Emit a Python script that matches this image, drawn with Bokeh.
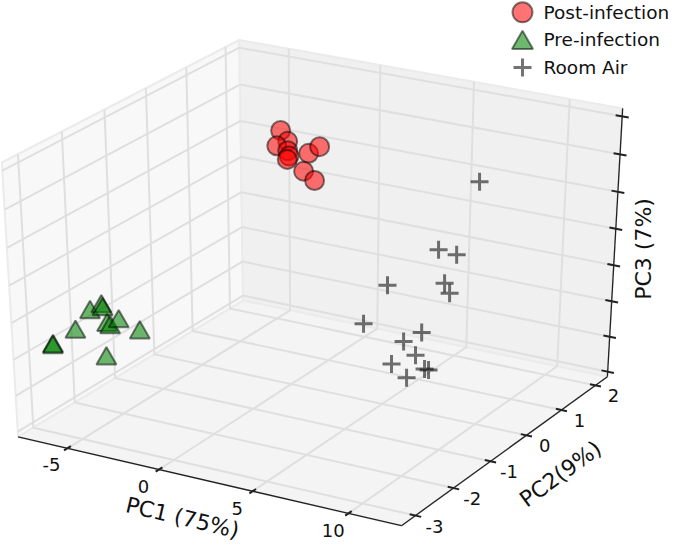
import numpy as np
from bokeh.plotting import figure
from bokeh.models import Range1d
from bokeh.core.properties import value
from bokeh.embed import file_html
from bokeh.resources import INLINE

# ---------------- data (principal-component scores) ----------------
post_pc1 = [-4.66, -4.27, -4.88, -4.27, -4.20, -4.30, -3.11, -2.50, -3.39, -2.78]
post_pc2 = [1.97, 1.97, 1.97, 1.97, 1.97, 1.97, 1.97, 1.97, 1.97, 1.97]
post_pc3 = [1.12, 0.99, 0.90, 0.86, 0.79, 0.74, 0.88, 1.00, 0.62, 0.52]

pre_pc1 = [-6.85, -6.86, -5.57, -4.72, -4.09, -4.03, -3.82, -3.66, -3.18, -2.06, -3.93]
pre_pc2 = [-2.81, -2.81, -2.81, -2.81, -2.81, -2.81, -2.81, -2.81, -2.81, -2.81, -2.81]
pre_pc3 = [-0.455, -0.47, -0.189, 0.122, 0.235, 0.198, -0.004, -0.023, 0.082, -0.007, -0.463]

air_pc1 = [10.78, 8.80, 9.73, 6.19, 9.15, 9.42, 4.95, 8.02, 7.08, 7.72, 6.46, 7.27, 8.21, 8.42]
air_pc2 = [-0.50, -0.50, -0.50, -0.50, -0.50, -0.50, -0.50, -0.50, -0.50, -0.50, -0.50, -0.50, -0.50, -0.50]
air_pc3 = [1.895, 0.915, 0.897, 0.308, 0.488, 0.371, -0.281, -0.237, -0.409, -0.563, -0.756, -0.902, -0.727, -0.729]

series_names = ["Post-infection", "Pre-infection", "Room Air"]

# axis limits and ticks
PC1_LIM = (-7.33, 12.31)
PC2_LIM = (-3.246, 2.242)
PC3_LIM = (-1.5, 2.03)
PC1_TICKS = [-5, 0, 5, 10]
PC2_TICKS = [-3, -2, -1, 0, 1, 2]
PC3_TICKS = [-1.5, -1.0, -0.5, 0.0, 0.5, 1.0, 1.5, 2.0]
PC1_LABELS = ["-5", "0", "5", "10"]
PC2_LABELS = ["-3", "-2", "-1", "0", "1", "2"]
AXIS_TITLES = ["PC1 (75%)", "PC2(9%)", "PC3 (7%)"]

# ---------------- 3-D view (perspective, elev 30, azim -60) ----------------
W_REF, H_REF = 693, 554
ELEV, AZIM, DIST = 30.0, -60.0, 10.0
CX, CY, SX, SY = 317.0, 277.7, 4248.0, 3050.0
PAD = 1.0 / 48
LO, HI = -0.5 - PAD, 0.5 + PAD

el, az = np.radians(ELEV), np.radians(AZIM)
N = np.array([np.cos(az) * np.cos(el), np.sin(az) * np.cos(el), np.sin(el)])
U = np.array([-np.sin(az), np.cos(az), 0.0])
V = np.array([-np.sin(el) * np.cos(az), -np.sin(el) * np.sin(az), np.cos(el)])


def norm(vals, lim):
    return (np.asarray(vals, float) - lim[0]) / (lim[1] - lim[0]) - 0.5


def proj_n(tx, ty, tz):
    tx, ty, tz = np.broadcast_arrays(np.asarray(tx, float), np.asarray(ty, float), np.asarray(tz, float))
    w = DIST - (N[0] * tx + N[1] * ty + N[2] * tz)
    px = (U[0] * tx + U[1] * ty) / w
    py = (V[0] * tx + V[1] * ty + V[2] * tz) / w
    return CX + SX * px, H_REF - (CY - SY * py)


def proj(x, y, z):
    return proj_n(norm(x, PC1_LIM), norm(y, PC2_LIM), norm(z, PC3_LIM))


def poly(pts):
    arr = np.array(pts, float)
    xs, ys = proj_n(arr[:, 0], arr[:, 1], arr[:, 2])
    return list(xs), list(ys)


p = figure(width=685, height=546, x_range=Range1d(0, 685), y_range=Range1d(0, H_REF),
           x_axis_type=None, y_axis_type=None, output_backend="svg",
           toolbar_location=None, min_border=0)
p.outline_line_color = None
p.background_fill_color = "white"
p.border_fill_color = "white"

FONT = value("DejaVu Sans")

# panes
panes = [
    [(LO, LO, LO), (LO, HI, LO), (LO, HI, HI), (LO, LO, HI)],   # PC1 = min
    [(LO, HI, LO), (HI, HI, LO), (HI, HI, HI), (LO, HI, HI)],   # PC2 = max
    [(LO, LO, LO), (HI, LO, LO), (HI, HI, LO), (LO, HI, LO)],   # PC3 = min
]
pane_colors = ["#f8f8f8", "#f0f0f0", "#f4f4f4"]
pxs, pys = [], []
for pn in panes:
    a, b = poly(pn)
    pxs.append(a)
    pys.append(b)
p.patches(pxs, pys, fill_color=pane_colors, line_color="#ebebeb", line_width=2)

# grid lines
gx, gy = [], []
for t in norm(PC1_TICKS, PC1_LIM):
    a, b = poly([(t, LO, LO), (t, HI, LO), (t, HI, HI)])
    gx.append(a); gy.append(b)
for t in norm(PC2_TICKS, PC2_LIM):
    a, b = poly([(HI, t, LO), (LO, t, LO), (LO, t, HI)])
    gx.append(a); gy.append(b)
for t in norm(PC3_TICKS, PC3_LIM):
    a, b = poly([(LO, LO, t), (LO, HI, t), (HI, HI, t)])
    gx.append(a); gy.append(b)
p.multi_line(gx, gy, line_color="#dfdfdf", line_width=2)

# axis lines
ax_x, ax_y = [], []
for seg in [[(LO, LO, LO), (HI, LO, LO)], [(HI, LO, LO), (HI, HI, LO)], [(HI, HI, LO), (HI, HI, HI)]]:
    a, b = poly(seg)
    ax_x.append(a); ax_y.append(b)
p.multi_line(ax_x, ax_y, line_color="#222222", line_width=1.3)

# tick marks
tk_x, tk_y = [], []
for t in norm(PC1_TICKS, PC1_LIM):
    a, b = poly([(t, LO - 0.015, LO), (t, LO + 0.015, LO)])
    tk_x.append(a); tk_y.append(b)
for t in norm(PC2_TICKS, PC2_LIM):
    a, b = poly([(HI - 0.015, t, LO), (HI + 0.015, t, LO)])
    tk_x.append(a); tk_y.append(b)
for t in norm(PC3_TICKS, PC3_LIM):
    a, b = poly([(HI - 0.017, HI, t), (HI + 0.017, HI, t)])
    tk_x.append(a); tk_y.append(b)
p.multi_line(tk_x, tk_y, line_color="#222222", line_width=2)

# tick labels
t1 = norm(PC1_TICKS, PC1_LIM)
lx, ly = proj_n(t1, LO - 0.07, LO - 0.025)
p.text(list(lx), list(ly), text=PC1_LABELS, text_font=FONT, text_font_size="18px",
       text_align="center", text_baseline="middle", text_color="#111111")
t2 = norm(PC2_TICKS, PC2_LIM)
lx, ly = proj_n(HI + 0.05, t2, LO - 0.025)
p.text(list(lx), list(ly), text=PC2_LABELS, text_font=FONT, text_font_size="18px",
       text_align="center", text_baseline="middle", text_color="#111111")

# axis titles
def edge_angle(p0, p1):
    a, b = poly([p0, p1])
    return float(np.degrees(np.arctan2(b[1] - b[0], a[1] - a[0])))

mx, my = proj_n(0.0, LO, LO)
ang1 = edge_angle((LO, LO, LO), (HI, LO, LO))
p.text([float(mx) - 23], [float(my) - 38], text=[AXIS_TITLES[0]], angle=ang1, angle_units="deg",
       text_font=FONT, text_font_size="22px", text_align="center", text_baseline="middle",
       text_color="#111111")
mx, my = proj_n(HI, 0.0, LO)
ang2 = edge_angle((HI, LO, LO), (HI, HI, LO))
p.text([float(mx) + 52], [float(my) - 26], text=[AXIS_TITLES[1]], angle=ang2, angle_units="deg",
       text_font=FONT, text_font_size="22px", text_align="center", text_baseline="middle",
       text_color="#111111")
mx, my = proj_n(HI, HI, 0.0)
p.text([float(mx) + 29], [float(my) - 3], text=[AXIS_TITLES[2]], angle=90, angle_units="deg",
       text_font=FONT, text_font_size="22px", text_align="center", text_baseline="middle",
       text_color="#111111")

# data
sx, sy = proj(pre_pc1, pre_pc2, pre_pc3)
p.scatter(list(sx), list(sy), marker="triangle", size=20, fill_color="green", fill_alpha=0.57,
          line_color="black", line_alpha=0.5, line_width=2)
sx, sy = proj(air_pc1, air_pc2, air_pc3)
p.scatter(list(sx), list(sy), marker="cross", size=18, line_color="black", line_alpha=0.55,
          line_width=3)
sx, sy = proj(post_pc1, post_pc2, post_pc3)
p.scatter(list(sx), list(sy), marker="circle", size=19, fill_color="red", fill_alpha=0.55,
          line_color="black", line_alpha=0.5, line_width=2)

# legend
leg_x = 522
leg_y = [H_REF - 12, H_REF - 40, H_REF - 68]
p.scatter([leg_x], [leg_y[0]], marker="circle", size=20, fill_color="red", fill_alpha=0.55,
          line_color="black", line_alpha=0.5, line_width=2)
p.scatter([leg_x], [leg_y[1] - 3], marker="triangle", size=21, fill_color="green", fill_alpha=0.57,
          line_color="black", line_alpha=0.5, line_width=2)
p.scatter([leg_x], [leg_y[2]], marker="cross", size=18, line_color="black", line_alpha=0.55,
          line_width=3)
p.text([543] * 3, leg_y, text=series_names, text_font=FONT, text_font_size="18.5px",
       text_align="left", text_baseline="middle", text_color="#111111")

open("out.html", "w").write(file_html(p, INLINE))
